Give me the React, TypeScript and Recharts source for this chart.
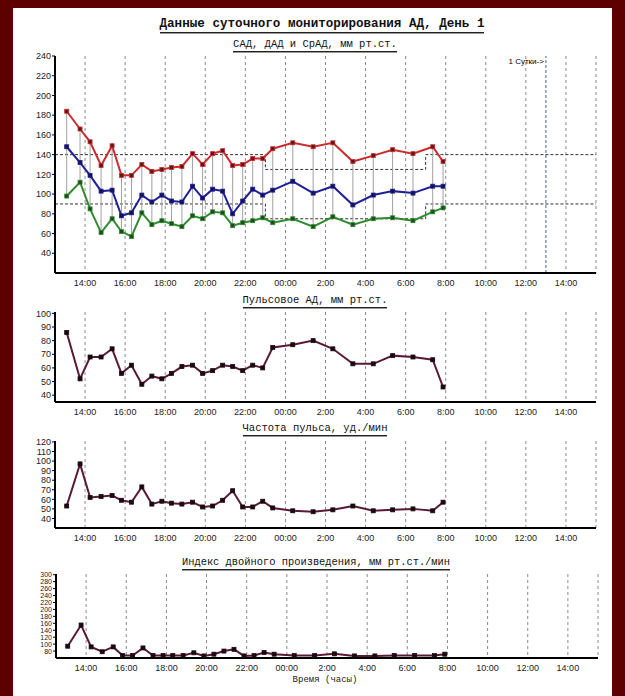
import React from "react";
import {
  LineChart,
  Line,
  XAxis,
  YAxis,
  CartesianGrid,
  ReferenceLine,
  ErrorBar,
} from "recharts";

// measurement times (day 1 -> morning of day 2)
const times = [
  "13:05", "13:45", "14:15", "14:48", "15:21", "15:49", "16:19", "16:50", "17:20", "17:50",
  "18:19", "18:50", "19:22", "19:52", "20:22", "20:52", "21:22", "21:52", "22:22", "22:52",
  "23:22", "00:22", "01:23", "02:22", "03:22", "04:23", "05:21", "06:22", "07:21", "07:52",
];
const sad = [184, 166, 153, 129, 149, 119, 119, 130, 123, 125, 127, 128, 141, 130, 141, 144, 129, 130, 136, 136, 146, 152, 148, 152, 133, 139, 145, 141, 148, 133];
const srad = [148, 132, 119, 103, 104, 78, 81, 99, 92, 99, 93, 92, 108, 96, 105, 103, 80, 93, 105, 99, 104, 113, 101, 108, 89, 99, 103, 101, 108, 108];
const dad = [98, 112, 85, 61, 75, 62, 57, 81, 69, 73, 70, 67, 78, 75, 82, 81, 68, 71, 73, 76, 71, 75, 67, 77, 69, 75, 76, 73, 82, 86];
const pulsePressure = [86, 52, 68, 68, 74, 56, 62, 48, 54, 52, 56, 61, 62, 56, 58, 62, 61, 58, 62, 60, 75, 77, 80, 74, 63, 63, 69, 68, 66, 46];
const heartRate = [53, 97, 62, 63, 64, 59, 57, 73, 55, 58, 56, 55, 57, 52, 53, 59, 69, 52, 52, 58, 51, 48, 47, 49, 53, 48, 49, 50, 48, 57];
const doubleProduct = [94, 155, 92, 78, 92, 67, 67, 89, 67, 67, 67, 67, 75, 66, 71, 80, 85, 66, 67, 76, 71, 67, 67, 72, 66, 66, 67, 67, 67, 71];

// x axis (hours from midnight of day 1)
const xDomain = [12.5, 39.5];
const xTicks = [14, 16, 18, 20, 22, 24, 26, 28, 30, 32, 34, 36, 38];
const xTickLabels = ["14:00", "16:00", "18:00", "20:00", "22:00", "00:00", "2:00", "4:00", "6:00", "8:00", "10:00", "12:00", "14:00"];
const dayMark = 37;

// day / night norms
const normTimes = [12.5, 23, 31, 39.5];
const sadNorm = [140, 125, 140, 140];
const dadNorm = [90, 75, 90, 90];

const bpTicks = [40, 60, 80, 100, 120, 140, 160, 180, 200, 220, 240];
const ppTicks = [40, 50, 60, 70, 80, 90, 100];
const hrTicks = [40, 50, 60, 70, 80, 90, 100, 110, 120];
const dpTicks = [80, 100, 120, 140, 160, 180, 200, 220, 240, 260, 280, 300];

function toHours(t: string) {
  const [h, m] = t.split(":").map(Number);
  return (h < 12 ? h + 24 : h) + m / 60;
}

const rows = times.map((t, i) => ({
  t: toHours(t),
  sad: sad[i],
  srad: srad[i],
  dad: dad[i],
  range: [0, sad[i] - dad[i]],
  pp: pulsePressure[i],
  hr: heartRate[i],
  dp: doubleProduct[i],
}));
const normRows = normTimes.map((t, i) => ({ t, sad: sadNorm[i], dad: dadNorm[i] }));

const mono = "'Liberation Mono', 'Courier New', monospace";
const sans = "'Liberation Sans', Arial, sans-serif";
const tickFont = { fontFamily: sans, fontSize: 9, fill: "#222" };

const square = (fill: string, stroke: string) => (props: any) => {
  const { cx, cy, index } = props;
  if (cx == null || cy == null) return <g key={index} />;
  return (
    <rect key={index} x={cx - 2} y={cy - 2} width={4} height={4} fill={fill} stroke={stroke} strokeWidth={0.8} />
  );
};

function frame(yDomain: number[], yTicks: number[], xHeight: number, yFontSize = 9) {
  return [
    <CartesianGrid key="grid" horizontal={false} strokeDasharray="3 3" stroke="#8a8a8a" />,
    <XAxis
      key="x"
      dataKey="t"
      type="number"
      domain={xDomain}
      ticks={xTicks}
      interval={0}
      allowDataOverflow
      tickFormatter={(v: number) => xTickLabels[xTicks.indexOf(v)]}
      tickLine={false}
      tickSize={5}
      axisLine={{ stroke: "#000", strokeWidth: 2 }}
      tick={tickFont}
      height={xHeight}
    />,
    <XAxis
      key="xt"
      xAxisId="top"
      orientation="top"
      type="number"
      domain={xDomain}
      tick={false}
      tickLine={false}
      axisLine={{ stroke: "#000" }}
      height={0}
    />,
    <YAxis
      key="y"
      type="number"
      domain={yDomain}
      ticks={yTicks}
      interval={0}
      allowDataOverflow
      tickSize={3}
      tickMargin={1}
      width={55}
      axisLine={{ stroke: "#000", strokeWidth: 2 }}
      tickLine={{ stroke: "#000" }}
      tick={{ ...tickFont, fontSize: yFontSize }}
    />,
    <YAxis
      key="yr"
      yAxisId="right"
      orientation="right"
      tick={false}
      tickLine={false}
      axisLine={{ stroke: "#000" }}
      width={0}
    />,
  ];
}

function Title({ text, cx, cy, size, bold }: { text: string; cx: number; cy: number; size: number; bold?: boolean }) {
  return (
    <div
      style={{
        position: "absolute",
        left: cx - 250,
        top: cy - size / 2 - 1,
        width: 500,
        textAlign: "center",
        fontFamily: mono,
        fontSize: size,
        lineHeight: `${size + 1}px`,
        fontWeight: bold ? "bold" : "normal",
        color: "#111",
        whiteSpace: "nowrap",
      }}
    >
      <span style={{ borderBottom: "1px solid #222", boxShadow: "0 1px 0 #999", paddingBottom: 1 }}>{text}</span>
    </div>
  );
}

const plotColor = "#5a1a36";

function SmallPanel({ top, plotHeight, dataKey, yDomain, yTicks, yFontSize, shift = 0 }: any) {
  return (
    <div style={{ position: "absolute", left: shift, top }}>
      <LineChart width={625} height={16 + plotHeight + 20} data={rows} margin={{ top: 16, right: 29 - shift, bottom: 0, left: 0 }}>
        {frame(yDomain, yTicks, 20, yFontSize)}
        <Line
          dataKey={dataKey}
          type="linear"
          stroke={plotColor}
          strokeWidth={2}
          dot={square("#1a0a10", "#1a0a10")}
          isAnimationActive={false}
        />
      </LineChart>
    </div>
  );
}

export default function App() {
  return (
    <div style={{ position: "absolute", left: 0, top: 0, width: 625, height: 696, background: "#5e0000", overflow: "hidden" }}>
      <div style={{ position: "absolute", left: 13, top: 8, width: 599, height: 688, background: "#fff" }} />

      <Title text="Данные суточного мониторирования АД, День 1" cx={322} cy={25} size={12.6} bold />

      <Title text="САД, ДАД и СрАД, мм рт.ст." cx={315} cy={45} size={10.5} />
      <div style={{ position: "absolute", left: 0, top: 40 }}>
        <LineChart width={625} height={256} data={rows} margin={{ top: 16, right: 29, bottom: 0, left: 0 }}>
          {frame([20, 240], bpTicks, 23)}
          <ReferenceLine
            x={dayMark}
            stroke="#506080"
            strokeDasharray="3 2"
            label={{ value: "1 Сутки->", position: "insideTopRight", fontSize: 8, fill: "#000", fontFamily: sans, offset: 2 }}
          />
          <Line
            data={normRows}
            dataKey="sad"
            type="stepAfter"
            stroke="#333"
            strokeWidth={1}
            strokeDasharray="3 2"
            dot={false}
            isAnimationActive={false}
          />
          <Line
            data={normRows}
            dataKey="dad"
            type="stepAfter"
            stroke="#333"
            strokeWidth={1}
            strokeDasharray="3 2"
            dot={false}
            isAnimationActive={false}
          />
          <Line dataKey="dad" stroke="none" dot={false} isAnimationActive={false}>
            <ErrorBar dataKey="range" direction="y" width={0} stroke="#a0a0a0" strokeWidth={1} />
          </Line>
          <Line dataKey="dad" type="linear" stroke="#2e8b2e" strokeWidth={2} dot={square("#1f4a1f", "#2e8b2e")} isAnimationActive={false} />
          <Line dataKey="srad" type="linear" stroke="#1f1f99" strokeWidth={2} dot={square("#14144a", "#1f1f99")} isAnimationActive={false} />
          <Line dataKey="sad" type="linear" stroke="#cc2b2b" strokeWidth={2} dot={square("#5a1a1a", "#cc2b2b")} isAnimationActive={false} />
        </LineChart>
      </div>

      <Title text="Пульсовое АД, мм рт.ст." cx={315} cy={301} size={10.5} />
      <SmallPanel top={296} plotHeight={90} dataKey="pp" yDomain={[35, 101]} yTicks={ppTicks} />

      <Title text="Частота пульса, уд./мин" cx={315} cy={429} size={10.5} />
      <SmallPanel top={425} plotHeight={87} dataKey="hr" yDomain={[30, 121]} yTicks={hrTicks} />

      <Title text="Индекс двойного произведения, мм рт.ст./мин" cx={316} cy={563} size={10.4} />
      <SmallPanel top={558} plotHeight={84} dataKey="dp" yDomain={[60, 302]} yTicks={dpTicks} yFontSize={7} shift={1} />

      <div
        style={{
          position: "absolute",
          left: 225,
          top: 675,
          width: 200,
          textAlign: "center",
          fontFamily: mono,
          fontSize: 9,
          lineHeight: "10px",
          color: "#222",
        }}
      >
        Время (часы)
      </div>
    </div>
  );
}
